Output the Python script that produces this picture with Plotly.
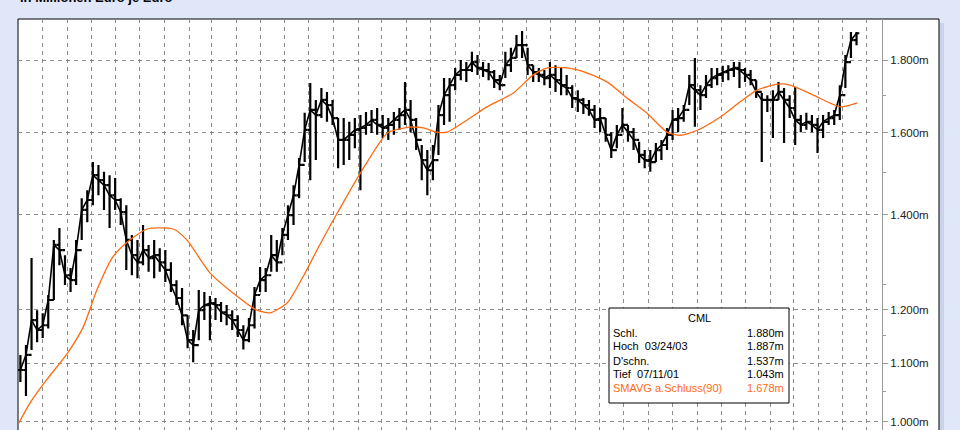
import math
import pandas as pd
import plotly.graph_objects as go

# ---------------- data ----------------
WEEK_START = "2001-07-04"          # Wednesday of first weekly bar
week_high = [
    1.115, 1.133, 1.305, 1.199, 1.193, 1.229, 1.344, 1.370, 1.311, 1.284,
    1.344, 1.438, 1.457, 1.525, 1.518, 1.501, 1.493, 1.486, 1.438, 1.422,
    1.355, 1.344, 1.377, 1.333, 1.344, 1.326, 1.322, 1.296, 1.259, 1.243,
    1.189, 1.161, 1.239, 1.235, 1.227, 1.223, 1.215, 1.209, 1.199, 1.189,
    1.170, 1.184, 1.245, 1.286, 1.284, 1.355, 1.344, 1.370, 1.422, 1.469,
    1.535, 1.652, 1.734, 1.687, 1.720, 1.709, 1.687, 1.638, 1.638, 1.628,
    1.638, 1.646, 1.654, 1.660, 1.665, 1.646, 1.638, 1.654, 1.665, 1.737,
    1.687, 1.638, 1.568, 1.555, 1.568, 1.673, 1.748, 1.748, 1.777, 1.800,
    1.794, 1.824, 1.815, 1.794, 1.791, 1.771, 1.757, 1.824, 1.836, 1.875,
    1.887, 1.836, 1.785, 1.777, 1.771, 1.794, 1.785, 1.777, 1.757, 1.728,
    1.714, 1.692, 1.687, 1.673, 1.665, 1.638, 1.601, 1.620, 1.665, 1.620,
    1.612, 1.576, 1.555, 1.555, 1.573, 1.581, 1.612, 1.660, 1.665, 1.673,
    1.757, 1.806, 1.728, 1.757, 1.777, 1.777, 1.783, 1.785, 1.794, 1.794,
    1.777, 1.771, 1.742, 1.706, 1.700, 1.714, 1.737, 1.720, 1.700, 1.723,
    1.646, 1.652, 1.646, 1.638, 1.646, 1.654, 1.660, 1.728, 1.815, 1.884,
    1.884,
]
week_low = [
    1.067, 1.043, 1.124, 1.138, 1.146, 1.164, 1.219, 1.290, 1.249, 1.235,
    1.249, 1.344, 1.383, 1.422, 1.445, 1.411, 1.370, 1.411, 1.377, 1.280,
    1.269, 1.263, 1.290, 1.276, 1.263, 1.276, 1.255, 1.235, 1.209, 1.170,
    1.127, 1.102, 1.142, 1.180, 1.142, 1.180, 1.176, 1.170, 1.161, 1.148,
    1.125, 1.138, 1.164, 1.235, 1.235, 1.276, 1.276, 1.311, 1.344, 1.377,
    1.438, 1.525, 1.481, 1.530, 1.638, 1.628, 1.620, 1.510, 1.518, 1.530,
    1.560, 1.457, 1.594, 1.599, 1.594, 1.586, 1.581, 1.594, 1.607, 1.620,
    1.601, 1.555, 1.481, 1.445, 1.481, 1.543, 1.620, 1.628, 1.714, 1.742,
    1.737, 1.765, 1.757, 1.751, 1.742, 1.720, 1.714, 1.748, 1.765, 1.806,
    1.806, 1.757, 1.737, 1.737, 1.728, 1.720, 1.709, 1.700, 1.700, 1.665,
    1.654, 1.649, 1.644, 1.612, 1.601, 1.576, 1.535, 1.560, 1.601, 1.576,
    1.555, 1.523, 1.510, 1.501, 1.525, 1.530, 1.555, 1.581, 1.601, 1.628,
    1.673, 1.615, 1.660, 1.692, 1.720, 1.728, 1.737, 1.742, 1.751, 1.720,
    1.737, 1.728, 1.692, 1.525, 1.654, 1.586, 1.687, 1.573, 1.638, 1.568,
    1.601, 1.607, 1.601, 1.548, 1.586, 1.620, 1.620, 1.633, 1.720, 1.806,
    1.844,
]
week_close = [
    1.088, 1.115, 1.180, 1.161, 1.170, 1.219, 1.333, 1.322, 1.269, 1.259,
    1.322, 1.411, 1.434, 1.493, 1.481, 1.469, 1.445, 1.434, 1.406, 1.344,
    1.311, 1.296, 1.322, 1.305, 1.311, 1.296, 1.280, 1.249, 1.223, 1.189,
    1.142, 1.133, 1.199, 1.209, 1.213, 1.209, 1.195, 1.189, 1.180, 1.161,
    1.142, 1.170, 1.229, 1.259, 1.269, 1.311, 1.296, 1.355, 1.399, 1.445,
    1.518, 1.607, 1.660, 1.646, 1.687, 1.673, 1.638, 1.581, 1.581, 1.594,
    1.607, 1.612, 1.620, 1.633, 1.620, 1.612, 1.620, 1.633, 1.646, 1.660,
    1.633, 1.581, 1.530, 1.505, 1.530, 1.646, 1.700, 1.728, 1.757, 1.771,
    1.771, 1.794, 1.777, 1.771, 1.765, 1.742, 1.728, 1.785, 1.806, 1.844,
    1.844, 1.785, 1.765, 1.757, 1.748, 1.757, 1.742, 1.728, 1.720, 1.692,
    1.687, 1.673, 1.660, 1.633, 1.638, 1.594, 1.555, 1.594, 1.620, 1.601,
    1.581, 1.543, 1.530, 1.525, 1.555, 1.568, 1.594, 1.633, 1.638, 1.660,
    1.728, 1.714, 1.700, 1.728, 1.748, 1.757, 1.765, 1.771, 1.777, 1.771,
    1.757, 1.742, 1.709, 1.687, 1.687, 1.687, 1.709, 1.687, 1.665, 1.633,
    1.620, 1.628, 1.620, 1.607, 1.628, 1.638, 1.646, 1.700, 1.794, 1.859,
    1.880,
]

sma_dates = [
    "2001-07-02", "2001-07-16", "2001-08-06", "2001-09-01", "2001-09-21",
    "2001-10-08", "2001-10-28", "2001-11-15", "2001-12-10", "2002-01-12",
    "2002-01-29", "2002-02-27", "2002-03-28", "2002-04-27", "2002-05-14",
    "2002-06-04", "2002-06-24", "2002-07-13", "2002-08-01", "2002-09-04",
    "2002-10-08", "2002-11-05", "2002-11-22", "2002-12-09", "2002-12-22",
    "2003-01-16", "2003-02-10", "2003-03-15", "2003-04-09", "2003-04-27",
    "2003-05-22", "2003-06-16", "2003-07-12", "2003-08-05", "2003-08-30",
    "2003-09-24", "2003-10-11", "2003-11-01", "2003-11-30", "2003-12-25",
    "2004-01-15", "2004-02-10", "2004-02-26", "2004-03-26", "2004-04-29",
    "2004-05-20",
]
sma_values = [
    0.998, 1.031, 1.071, 1.118, 1.167,
    1.239, 1.307, 1.339, 1.368, 1.368,
    1.344, 1.274, 1.233, 1.199, 1.194,
    1.213, 1.266, 1.327, 1.388, 1.498,
    1.599, 1.614, 1.612, 1.601, 1.601,
    1.633, 1.668, 1.706, 1.757, 1.777,
    1.777, 1.762, 1.735, 1.692, 1.651,
    1.601, 1.593, 1.606, 1.641, 1.682,
    1.714, 1.731, 1.728, 1.700, 1.668,
    1.679,
]

y_tick_values = [1.0, 1.1, 1.2, 1.4, 1.6, 1.8]
y_tick_labels = ["1.000m", "1.100m", "1.200m", "1.400m", "1.600m", "1.800m"]
y_minor_ticks = [1.05, 1.15, 1.25, 1.5, 1.7]

title_text = "in Millionen Euro je Euro"
legend_title = "CML"
legend_labels = ["Schl.", "Hoch  03/24/03", "D'schn.", "Tief  07/11/01", "SMAVG a.Schluss(90)"]
legend_values = [1.880, 1.887, 1.537, 1.043, 1.678]

# ---------------- figure ----------------
W, H = 960, 430
L, R, T = 18, 882, 19          # plot area pixel edges
FRAME_R = 939
BG = "#dfe7f8"
ORANGE = "#ff6a10"
FONT = "Liberation Sans, Arial, sans-serif"

def px(X):
    return (X - L) / (R - L)

def py(Y):
    return 1 - (Y - T) / (H - T)

weeks = pd.date_range(WEEK_START, periods=len(week_high), freq="7D")
week_open = [week_close[0]] + week_close[:-1]

fig = go.Figure()
fig.add_trace(go.Ohlc(
    x=weeks, open=week_open, high=week_high, low=week_low, close=week_close,
    increasing=dict(line=dict(color="black", width=2.2)),
    decreasing=dict(line=dict(color="black", width=2.2)),
    tickwidth=0.5, hoverinfo="skip", showlegend=False,
))
fig.add_trace(go.Scatter(
    x=weeks, y=week_close, mode="lines",
    line=dict(color="black", width=1.6),
    hoverinfo="skip", showlegend=False,
))
fig.add_trace(go.Scatter(
    x=pd.to_datetime(sma_dates), y=sma_values, mode="lines",
    line=dict(color=ORANGE, width=1.3, shape="spline", smoothing=0.6),
    hoverinfo="skip", showlegend=False,
))

shapes = [
    dict(type="rect", xref="paper", yref="paper", x0=px(FRAME_R), x1=px(FRAME_R + 5),
         y0=-0.02, y1=py(T + 4), fillcolor="#c9d3ec", line=dict(width=0), layer="below"),
    dict(type="rect", xref="paper", yref="paper", x0=0, x1=px(FRAME_R),
         y0=-0.02, y1=1, fillcolor="white", line=dict(color="black", width=1), layer="below"),
    dict(type="rect", xref="paper", yref="paper", x0=px(609), x1=px(789),
         y0=py(403), y1=py(308), fillcolor="white", line=dict(color="black", width=1), layer="above"),
]

annotations = [
    dict(text="<b>" + title_text + "</b>", xref="paper", yref="paper", x=px(18), y=py(7),
         xanchor="left", yanchor="bottom", showarrow=False,
         font=dict(family=FONT, size=13, color="black")),
    dict(text=legend_title, xref="paper", yref="paper", x=px(699), y=py(318), xanchor="center",
         yanchor="middle", showarrow=False, font=dict(family=FONT, size=11, color="black")),
]
row_y = [333, 346, 361, 374, 388]
for i, (lab, val) in enumerate(zip(legend_labels, legend_values)):
    col = ORANGE if i == len(legend_labels) - 1 else "black"
    annotations.append(dict(text=lab, xref="paper", yref="paper", x=px(611), y=py(row_y[i]),
                            xanchor="left", yanchor="middle", showarrow=False,
                            font=dict(family=FONT, size=11, color=col)))
    annotations.append(dict(text=f"{val:.3f}m", xref="paper", yref="paper", x=px(786), y=py(row_y[i]),
                            xanchor="right", yanchor="middle", showarrow=False,
                            font=dict(family=FONT, size=11, color=col)))

fig.update_layout(
    width=W, height=H,
    margin=dict(l=L, r=W - R, t=T, b=0, pad=0, autoexpand=False),
    paper_bgcolor=BG, plot_bgcolor="white",
    shapes=shapes, annotations=annotations,
    showlegend=False,
    xaxis=dict(
        type="date", range=["2001-07-01", "2004-06-20"],
        tick0="2001-08-01", dtick="M1", showticklabels=False, ticks="",
        showgrid=True, gridcolor="#8c8c8c", gridwidth=1, griddash="4px,4px",
        showline=False, zeroline=False, rangeslider=dict(visible=False),
        automargin=False,
    ),
    yaxis=dict(
        type="log", side="right",
        range=[math.log10(0.987), math.log10(1.924)],
        tickmode="array", tickvals=y_tick_values, ticktext=y_tick_labels,
        ticks="outside", ticklen=5, tickcolor="#999999",
        tickfont=dict(family=FONT, size=11.5, color="#222222"),
        showgrid=True, gridcolor="#8c8c8c", gridwidth=1, griddash="4px,4px",
        showline=True, linecolor="#9a9a9a", linewidth=1, zeroline=False,
        automargin=False,
        minor=dict(tickmode="array", tickvals=y_minor_ticks, ticks="outside",
                   ticklen=3, tickcolor="#999999", showgrid=False),
    ),
)

fig.write_html(
    "out.html",
    config={"displayModeBar": False},
    post_script="document.body.style.margin='0';document.body.style.padding='0';"
                "document.body.style.overflow='hidden';",
)
